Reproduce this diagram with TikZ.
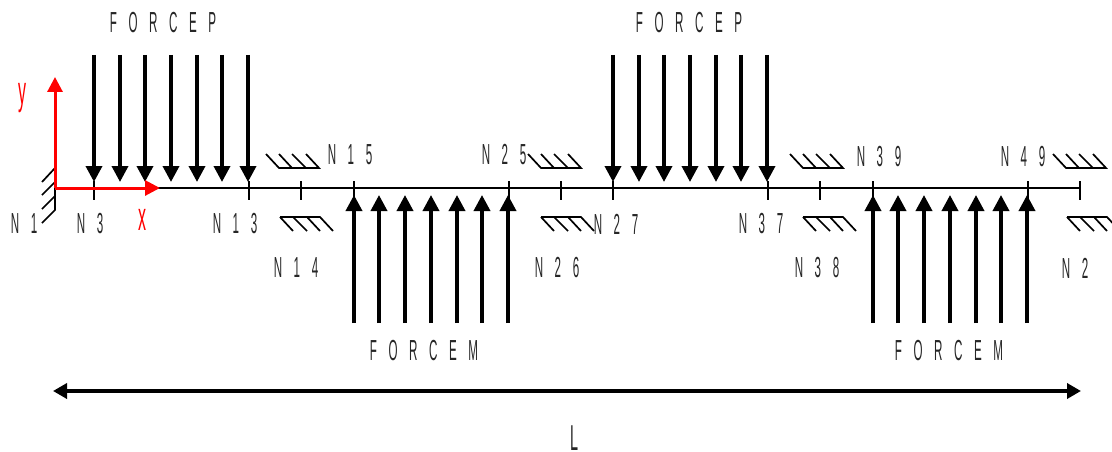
\documentclass[tikz,border=0pt]{standalone}
\usepackage{fontspec}
\setmainfont[FakeStretch=0.4,WordSpace=3.6]{Liberation Sans}
\usetikzlibrary{arrows.meta}
\tikzset{
  x=1pt,y=-1pt,
  lbl/.style={inner sep=0pt,font=\fontsize{29}{29}\selectfont,text=black!85},
  redlbl/.style={inner sep=0pt,anchor=base,font=\fontsize{40}{40}\selectfont,text=red},
  force/.style={line width=3.6pt,draw=black,-{Triangle[length=16pt,width=16pt,fill=black]}},
  axis/.style={line width=3pt,draw=red,-{Triangle[length=15pt,width=15pt,fill=red]}},
  beam/.style={line width=1.8pt,draw=black},
  tick/.style={line width=1.5pt,draw=black},
  hatch/.style={line width=1.7pt,draw=black},
  dim/.style={line width=3.6pt,draw=black,{Triangle[length=14pt,width=15pt,fill=black]}-{Triangle[length=14pt,width=15pt,fill=black]}}
}
\newcommand{\suptop}[1]{%
  \draw[hatch] (#1-13,154) -- (#1,168) -- (#1+40,168) -- (#1+27,154)
    (#1+13,168) -- (#1,154) (#1+27,168) -- (#1+13,154);}
\newcommand{\supbot}[1]{%
  \draw[hatch] (#1,217) -- (#1+40,217) -- (#1+53,231)
    (#1,217) -- (#1+13,231) (#1+13,217) -- (#1+27,231) (#1+27,217) -- (#1+40,231);}
\begin{document}
\begin{tikzpicture}
\useasboundingbox (0,0) rectangle (1112,452);
\clip (0,0) rectangle (1112,452);
% beam
\coordinate (A) at (55,188);
\coordinate (B) at (1080,188);
\draw[beam] (A) -- (B);
\foreach \t in {94,249,301,354,509,561,613,768,820,873,1028,1080}
  \draw[tick] (\t,181) -- (\t,200);
% forces
\foreach \t in {94,120,145,171,197,222,248,613,639,664,690,716,741,767}
  \draw[force] (\t,55) -- (\t,182);
\foreach \t in {354,379,405,431,457,482,508,873,898,924,950,976,1001,1027}
  \draw[force] (\t,323) -- (\t,195);
% wall
\draw[hatch] (55,168) -- (55,210) -- (42,223)
  (55,168) -- (42,182) (55,182) -- (42,195) (55,196) -- (42,209);
% supports
\suptop{279}\suptop{541}\suptop{803}\suptop{1066}
\supbot{280}\supbot{541}\supbot{803}\supbot{1067}
% axes
\coordinate (O) at (55,188);
\coordinate (Ox) at (160,188);
\coordinate (Oy) at (55,77);
\draw[axis] (O) -- (Ox);
\draw[axis] (O) -- (Oy);
\node[redlbl] (ly) at (23,104) {y};
\node[redlbl] (lx) at (142,230) {x};
% labels
\node[lbl] (n1) at (24,224) {N 1};
\node[lbl] (n3) at (90,224) {N 3};
\node[lbl] (n13) at (235,224) {N 1 3};
\node[lbl] (n14) at (296,268) {N 1 4};
\node[lbl] (n15) at (350,155) {N 1 5};
\node[lbl] (n25) at (504,155) {N 2 5};
\node[lbl] (n26) at (557,268) {N 2 6};
\node[lbl] (n27) at (616,224) {N 2 7};
\node[lbl] (n37) at (761,224) {N 3 7};
\node[lbl] (n38) at (817,268) {N 3 8};
\node[lbl] (n39) at (879,157) {N 3 9};
\node[lbl] (n49) at (1023,157) {N 4 9};
\node[lbl] (n2) at (1075,268) {N 2};
\node[lbl] (fp1) at (163,23) {F O R C E P};
\node[lbl] (fp2) at (689,23) {F O R C E P};
\node[lbl] (fm1) at (424,351) {F O R C E M};
\node[lbl] (fm2) at (949,351) {F O R C E M};
\node[lbl,anchor=base,font=\fontsize{36}{36}\selectfont] (ll) at (574,450) {L};
% dimension
\coordinate (D1) at (53,391);
\coordinate (D2) at (1081,391);
\draw[dim] (D1) -- (D2);
\end{tikzpicture}
\end{document}
